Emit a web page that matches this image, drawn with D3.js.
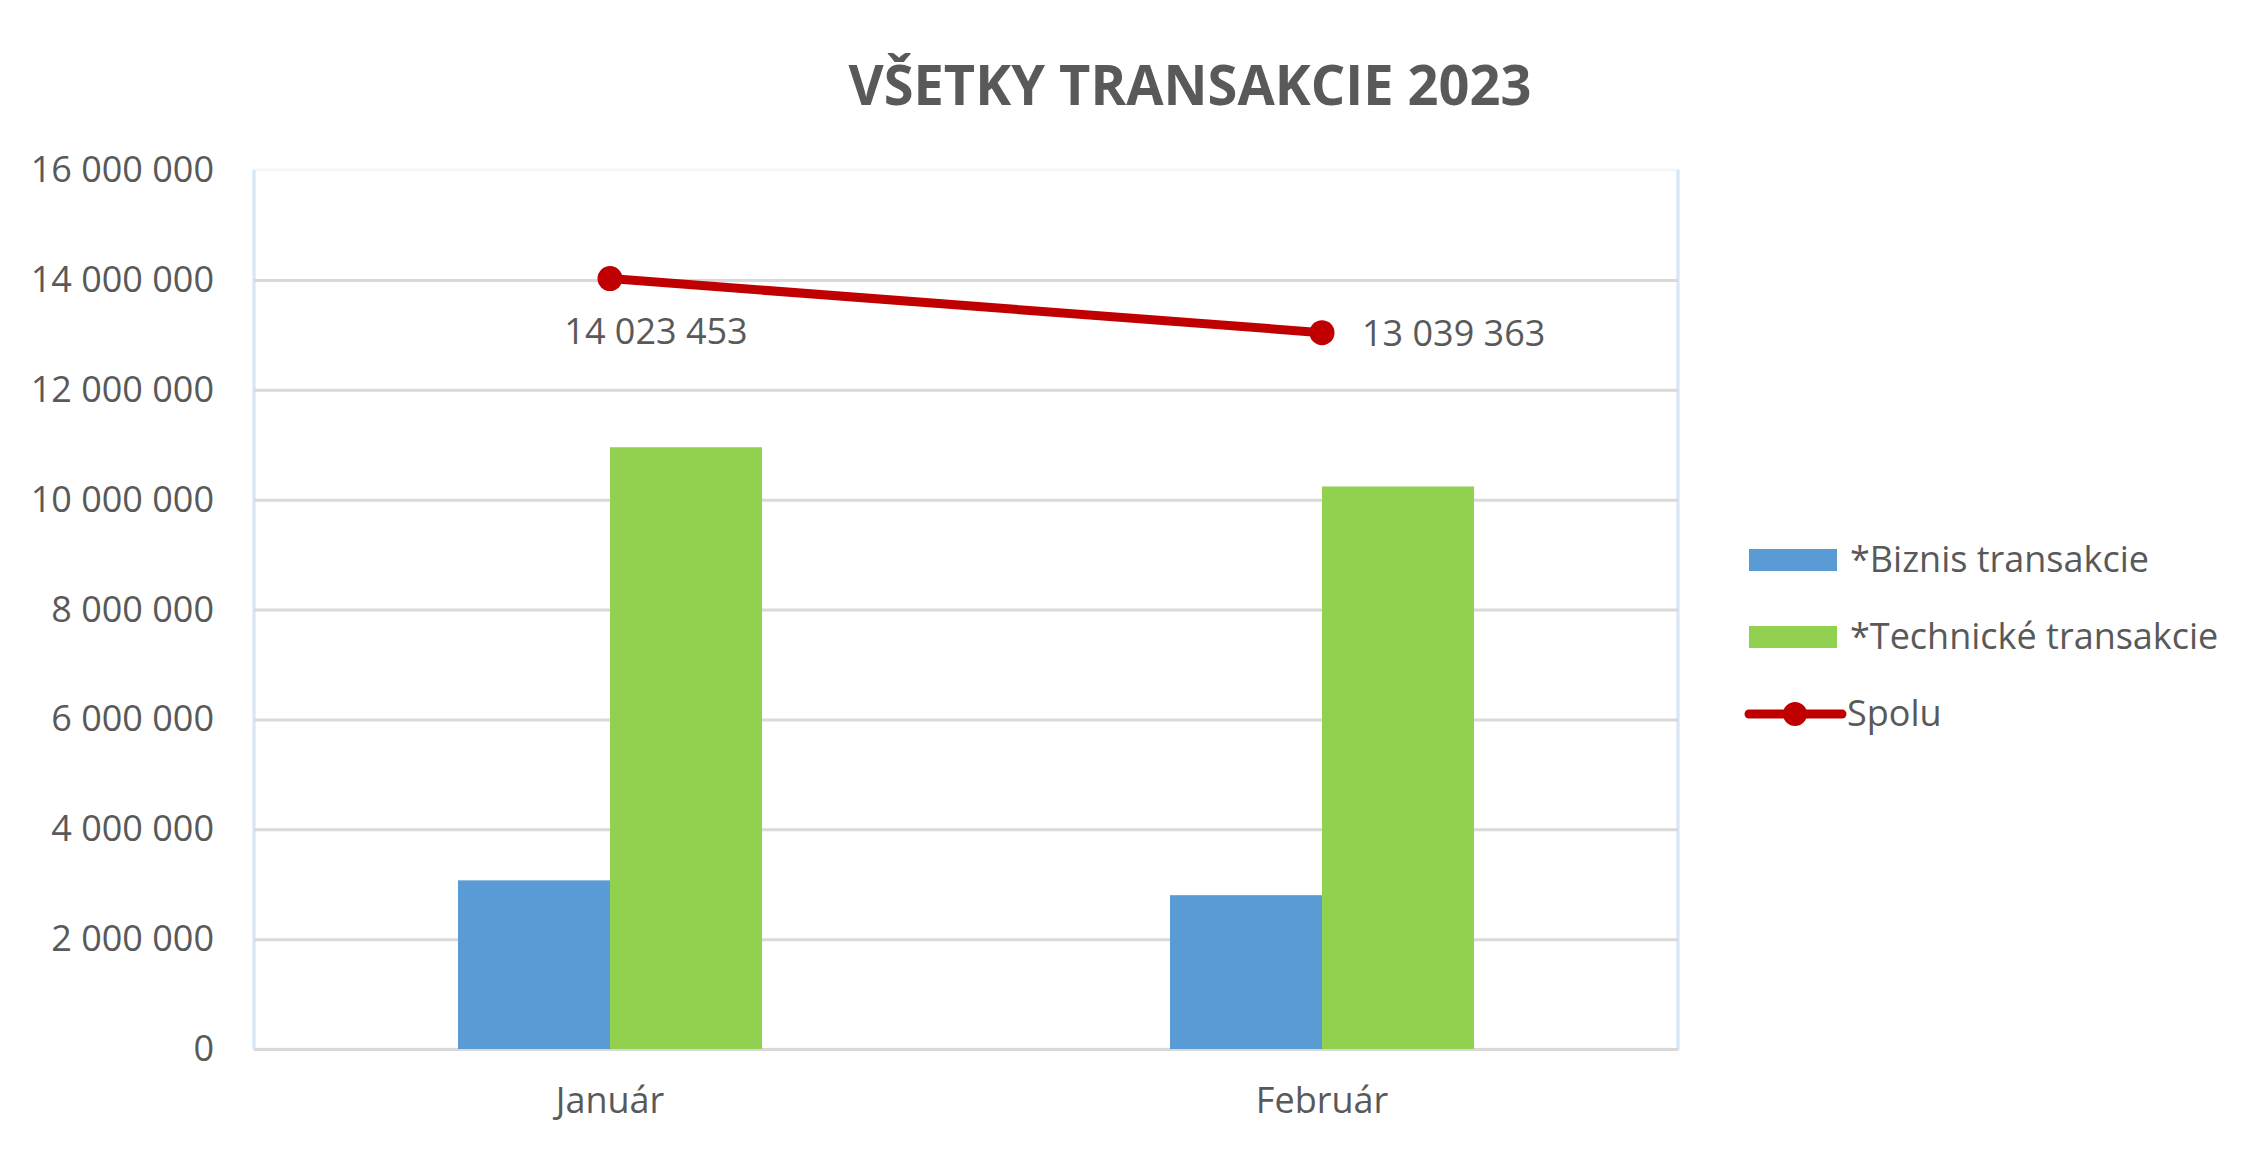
<!DOCTYPE html>
<html>
<head>
<meta charset="utf-8">
<script src="https://cdn.jsdelivr.net/npm/d3@7"></script>
<style>
  body { margin: 0; background: #fff; }
  text { font-family: "Open Sans", sans-serif; fill: #595959; }
</style>
</head>
<body>
<svg id="chart" width="2262" height="1155"></svg>
<script>
// data
var months = ['Január', 'Február'];
var seriesNames = ['*Biznis transakcie', '*Technické transakcie'];
var biznis = [3070000, 2800000];
var technicke = [10953453, 10239363];
var spolu = [14023453, 13039363];
var yTicks = [0, 2000000, 4000000, 6000000, 8000000, 10000000, 12000000, 14000000, 16000000];
var labelPos = ['below', 'right'];

var colors = { biznis: '#5b9bd5', technicke: '#92d050', spolu: '#c00000' };

var svg = d3.select('svg#chart');
var plotLeft = 254, plotRight = 1678, plotTop = 170, plotBottom = 1049;

var x0 = d3.scaleBand().domain(months).range([plotLeft, plotRight]).padding(0);
var bw = x0.bandwidth();
var x1 = d3.scaleBand().domain(seriesNames).range([bw * 0.2865, bw * 0.7135]);

var y = d3.scaleLinear().domain([0, 16000000]).range([plotBottom, plotTop]);

var fmt = function(v) { return d3.format(',')(v).replace(/,/g, ' '); };

// title
svg.append('text')
  .attr('x', 1190)
  .attr('y', 105)
  .attr('text-anchor', 'middle')
  .attr('font-size', 56)
  .attr('font-weight', 'bold')
  .attr('textLength', 683)
  .attr('lengthAdjust', 'spacingAndGlyphs')
  .text('VŠETKY TRANSAKCIE 2023');

// plot frame (light)
svg.append('rect')
  .attr('x', plotLeft).attr('y', plotTop)
  .attr('width', plotRight - plotLeft).attr('height', plotBottom - plotTop)
  .attr('fill', 'none')
  .attr('stroke', '#f2f7fc')
  .attr('stroke-width', 3);
svg.append('line')
  .attr('x1', plotLeft).attr('x2', plotLeft).attr('y1', plotTop).attr('y2', plotBottom)
  .attr('stroke', '#d6e6f5').attr('stroke-width', 3);
svg.append('line')
  .attr('x1', plotRight).attr('x2', plotRight).attr('y1', plotTop).attr('y2', plotBottom)
  .attr('stroke', '#d6e6f5').attr('stroke-width', 3);

// y axis + gridlines
var yAxis = svg.append('g')
  .attr('transform', 'translate(' + plotLeft + ',0)')
  .call(d3.axisLeft(y).tickValues(yTicks).tickSize(-(plotRight - plotLeft)).tickPadding(40).tickFormat(fmt));
yAxis.select('.domain').remove();
yAxis.selectAll('.tick line')
  .attr('stroke', '#d9d9d9')
  .attr('stroke-width', d => d === 16000000 ? 0 : 3);
yAxis.selectAll('.tick text')
  .attr('font-size', 36)
  .attr('font-family', '"Open Sans", sans-serif')
  .attr('fill', '#595959');

// x axis
var xAxis = svg.append('g')
  .attr('transform', 'translate(0,' + plotBottom + ')')
  .call(d3.axisBottom(x0).tickSize(0).tickPadding(38));
xAxis.select('.domain').attr('stroke', '#d9d9d9').attr('stroke-width', 3);
xAxis.selectAll('.tick text')
  .attr('font-size', 36)
  .attr('font-family', '"Open Sans", sans-serif')
  .attr('fill', '#595959');

// bars
var groups = svg.selectAll('g.month').data(months).enter().append('g')
  .attr('class', 'month')
  .attr('transform', d => 'translate(' + x0(d) + ',0)');

groups.append('rect')
  .attr('x', x1(seriesNames[0]))
  .attr('y', (d, i) => y(biznis[i]))
  .attr('width', x1.bandwidth())
  .attr('height', (d, i) => y(0) - y(biznis[i]))
  .attr('fill', colors.biznis);

groups.append('rect')
  .attr('x', x1(seriesNames[1]))
  .attr('y', (d, i) => y(technicke[i]))
  .attr('width', x1.bandwidth())
  .attr('height', (d, i) => y(0) - y(technicke[i]))
  .attr('fill', colors.technicke);

// line Spolu
var cx = d => x0(d) + bw / 2;
svg.append('path')
  .datum(months)
  .attr('fill', 'none')
  .attr('stroke', colors.spolu)
  .attr('stroke-width', 9)
  .attr('stroke-linecap', 'round')
  .attr('d', d3.line().x(d => cx(d)).y((d, i) => y(spolu[i])));

svg.selectAll('circle.pt').data(months).enter().append('circle')
  .attr('class', 'pt')
  .attr('cx', d => cx(d))
  .attr('cy', (d, i) => y(spolu[i]))
  .attr('r', 12.5)
  .attr('fill', colors.spolu);

svg.selectAll('text.lbl').data(months).enter().append('text')
  .attr('class', 'lbl')
  .attr('x', (d, i) => labelPos[i] == 'below' ? cx(d) + 46 : cx(d) + 40)
  .attr('y', (d, i) => labelPos[i] == 'below' ? y(spolu[i]) + 65 : y(spolu[i]) + 13)
  .attr('text-anchor', (d, i) => labelPos[i] == 'below' ? 'middle' : 'start')
  .attr('font-size', 36)
  .attr('fill', '#404040')
  .text((d, i) => fmt(spolu[i]));

// legend
var legend = svg.append('g').attr('transform', 'translate(1749,0)');
var legendItems = [
  { name: seriesNames[0], color: colors.biznis, type: 'rect', y: 560 },
  { name: seriesNames[1], color: colors.technicke, type: 'rect', y: 637 },
  { name: 'Spolu', color: colors.spolu, type: 'line', y: 714 }
];
legendItems.forEach(function(it) {
  if (it.type == 'rect') {
    legend.append('rect')
      .attr('x', 0).attr('y', it.y - 11)
      .attr('width', 88).attr('height', 22)
      .attr('fill', it.color);
  } else {
    legend.append('line')
      .attr('x1', 0).attr('x2', 93).attr('y1', it.y).attr('y2', it.y)
      .attr('stroke', it.color).attr('stroke-width', 9).attr('stroke-linecap', 'round');
    legend.append('circle')
      .attr('cx', 46).attr('cy', it.y).attr('r', 12)
      .attr('fill', it.color);
  }
  legend.append('text')
    .attr('x', it.type == 'rect' ? 101 : 98)
    .attr('y', it.y + 12)
    .attr('font-size', 36)
    .text(it.name);
});
</script>
</body>
</html>
